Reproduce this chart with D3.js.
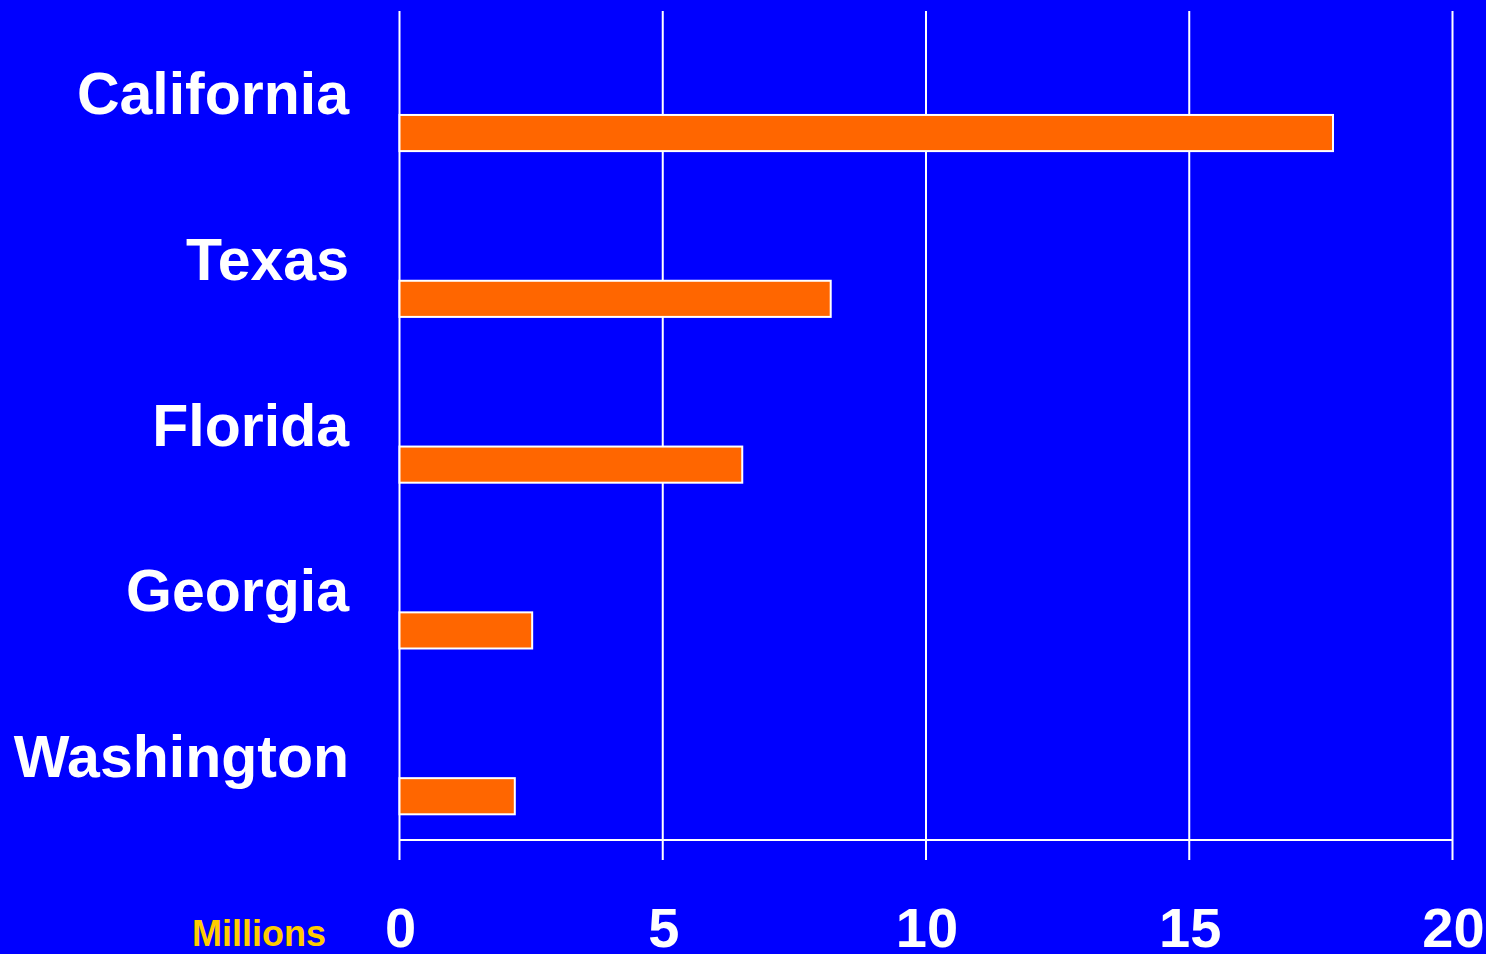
<!DOCTYPE html>
<html>
<head>
<meta charset="utf-8">
<script src="https://cdn.jsdelivr.net/npm/d3@7"></script>
<style>
  html, body { margin: 0; padding: 0; background: #0000ff; }
  svg { display: block; }
  text { font-family: "Liberation Sans", Arial, sans-serif; font-weight: bold; }
</style>
</head>
<body>
<svg id="chart"></svg>
<script>
// data
const states = ["California", "Texas", "Florida", "Georgia", "Washington"];
const millions = [17.73, 8.19, 6.51, 2.52, 2.19];
const tickValues = [0, 5, 10, 15, 20];

const width = 1486;
const height = 954;

const svg = d3.select("#chart")
  .attr("width", width)
  .attr("height", height);

svg.append("rect")
  .attr("width", width)
  .attr("height", height)
  .attr("fill", "#0000ff");

const x = d3.scaleLinear()
  .domain([0, 20])
  .range([399.5, 1452.5]);

const y = d3.scaleBand()
  .domain(states)
  .range([11, 840]);

// vertical gridlines + ticks
svg.append("g")
  .selectAll("line")
  .data(tickValues)
  .join("line")
  .attr("x1", d => x(d))
  .attr("x2", d => x(d))
  .attr("y1", 11)
  .attr("y2", 860)
  .attr("stroke", "white")
  .attr("stroke-width", 2);

// bottom axis line
svg.append("line")
  .attr("x1", x(0))
  .attr("x2", x(20))
  .attr("y1", 840)
  .attr("y2", 840)
  .attr("stroke", "white")
  .attr("stroke-width", 2);

// bars
const bw = y.bandwidth();
svg.append("g")
  .selectAll("rect")
  .data(states)
  .join("rect")
  .attr("x", x(0))
  .attr("y", d => y(d) + bw * 0.627)
  .attr("width", (d, i) => x(millions[i]) - x(0))
  .attr("height", bw * 0.218)
  .attr("fill", "#ff6600")
  .attr("stroke", "white")
  .attr("stroke-width", 2);

// category labels
svg.append("g")
  .selectAll("text")
  .data(states)
  .join("text")
  .attr("x", 349)
  .attr("y", d => y(d) + bw / 2 + 20)
  .attr("text-anchor", "end")
  .attr("fill", "white")
  .attr("font-size", 59)
  .text(d => d);

// tick labels
svg.append("g")
  .selectAll("text")
  .data(tickValues)
  .join("text")
  .attr("x", d => x(d) + 1)
  .attr("y", 947)
  .attr("text-anchor", "middle")
  .attr("fill", "white")
  .attr("font-size", 56)
  .text(d => d);

svg.append("text")
  .attr("x", 192)
  .attr("y", 946)
  .attr("fill", "#ffcc00")
  .attr("font-size", 36)
  .text("Millions");
</script>
</body>
</html>
